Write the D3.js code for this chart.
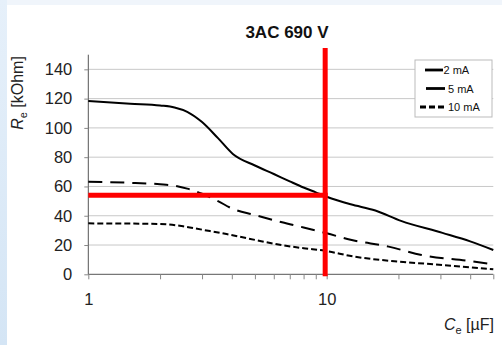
<!DOCTYPE html>
<html><head><meta charset="utf-8">
<script src="https://cdn.jsdelivr.net/npm/d3@7/dist/d3.min.js"></script>
<style>html,body{margin:0;padding:0;background:#fff;}svg{display:block;font-family:"Liberation Sans",Arial,sans-serif;}</style>
</head><body><svg id="c" width="502" height="345"></svg>
<script>
const title = "3AC 690 V";
const seriesNames = ["2 mA", "5 mA", "10 mA"];
const cap2 = [1, 1.5, 2, 2.3, 2.6, 3.0, 3.5, 4.04, 5, 6, 7, 8, 9, 10, 12.6, 16, 20.5, 30.6, 40, 50];
const res2 = [118.4, 116.5, 115.3, 114, 111, 104, 93, 82.2, 74.3, 68.5, 63.5, 59.3, 56, 53, 47.8, 43.6, 36.5, 28.3, 22.5, 16.6];
const cap5 = [1, 1.5, 2, 2.3, 2.6, 3.0, 3.5, 4.0, 5, 6.5, 8, 10, 12.6, 18.2, 25, 39.6, 50];
const res5 = [63.2, 62.5, 61.5, 60.5, 58.5, 55, 50, 45, 40.5, 35.5, 32, 28, 23.6, 18.9, 13.2, 9.1, 6.8];
const cap10 = [1, 2, 2.5, 3.0, 3.8, 5, 6.45, 8, 9.8, 12.9, 20.3, 30.6, 50];
const res10 = [34.8, 34.4, 32.8, 30.5, 27.5, 23.5, 20, 17.8, 16.1, 12.2, 8.6, 6.4, 3.4];
const yTicks = [0, 20, 40, 60, 80, 100, 120, 140];
const xTickLabels = [1, 10];
const xMinorTicks = [1,2,3,4,5,6,7,8,9,10,20,30,40,50];
const markC = 10, markR = 54;

const svg = d3.select("#c");
const defs = svg.append("defs");
const g1 = defs.append("linearGradient").attr("id","lg").attr("x1","0").attr("x2","0").attr("y1","0").attr("y2","1");
g1.append("stop").attr("offset","0").attr("stop-color","#e6f0fa");
g1.append("stop").attr("offset","1").attr("stop-color","#d4e5f5");
svg.append("rect").attr("width",502).attr("height",345).attr("fill","#f0f5fb");
svg.append("rect").attr("width",7).attr("height",345).attr("fill","url(#lg)");
svg.append("rect").attr("x",7).attr("y",5).attr("width",495).attr("height",340).attr("fill","#fff");
const f = defs.append("filter").attr("id","blur").attr("x","-20%").attr("y","-20%").attr("width","140%").attr("height","140%");
f.append("feGaussianBlur").attr("stdDeviation",0.6);

const x = d3.scaleLog().domain([1, 50]).range([88.3, 493.3]);
const y = d3.scaleLinear().domain([0, 150]).range([274.3, 54.7]);

svg.append("g").selectAll("line").data(yTicks.filter(d=>d>0)).join("line")
  .attr("x1", x(1)).attr("x2", x(50)).attr("y1", d=>y(d)).attr("y2", d=>y(d))
  .attr("stroke","#c8c8c8").attr("stroke-width",1);

const yAxis = d3.axisLeft(y).tickValues(yTicks).tickSize(4).tickPadding(12).tickFormat(d3.format("d"));
const ya = svg.append("g").attr("transform",`translate(${x(1)},0)`).call(yAxis);
ya.select(".domain").attr("stroke","#555").attr("d",`M0,${y(150)}V${y(0)}`);
ya.selectAll(".tick line").attr("stroke","#888");
ya.selectAll(".tick text").attr("font-size",16.5).attr("fill","#222").attr("font-family","Liberation Sans, Arial, sans-serif");

const xAxis = d3.axisBottom(x).tickValues(xMinorTicks).tickSize(5).tickPadding(14)
  .tickFormat(d => xTickLabels.includes(d) ? d : "");
const xa = svg.append("g").attr("transform",`translate(0,${y(0)})`).call(xAxis);
xa.select(".domain").attr("stroke","#555").attr("d",`M${x(1)},0H${x(50)}`);
xa.selectAll(".tick line").attr("stroke","#888");
xa.selectAll(".tick text").attr("font-size",16.5).attr("fill","#222").attr("font-family","Liberation Sans, Arial, sans-serif");

const line = d3.line().x(d=>x(d[0])).y(d=>y(d[1])).curve(d3.curveMonotoneX);
const series = [
  {pts: d3.zip(cap2, res2), dash: null},
  {pts: d3.zip(cap5, res5), dash: "14,8"},
  {pts: d3.zip(cap10, res10), dash: "6,3"}
];
svg.append("g").selectAll("path").data(series).join("path")
  .attr("d", d=>line(d.pts)).attr("fill","none").attr("stroke","#000")
  .attr("stroke-width",2).attr("stroke-dasharray", d=>d.dash);

const red = svg.append("g").attr("filter","url(#blur)");
red.append("line").attr("x1",x(markC)-1.5).attr("x2",x(markC)-1.5).attr("y1",48).attr("y2",y(0)+2)
  .attr("stroke","#ff0000").attr("stroke-width",5);
red.append("line").attr("x1",x(1)).attr("x2",x(markC)+1).attr("y1",y(markR)).attr("y2",y(markR))
  .attr("stroke","#ff0000").attr("stroke-width",5);

const lg = svg.append("g");
lg.append("rect").attr("x",415).attr("y",60).attr("width",77).attr("height",57)
  .attr("fill","#fff").attr("stroke","#bbb").attr("stroke-width",1);
const legItems = [
  {name: seriesNames[0], y: 70, x1: 425, x2: 443, tx: 443.5, dash: null},
  {name: seriesNames[1], y: 88.5, x1: 426, x2: 445, tx: 448, dash: null},
  {name: seriesNames[2], y: 107, x1: 420, x2: 447, tx: 448, dash: "6,3"}
];
legItems.forEach(d => {
  lg.append("line").attr("x1",d.x1).attr("x2",d.x2).attr("y1",d.y).attr("y2",d.y)
    .attr("stroke","#000").attr("stroke-width",2.8).attr("stroke-dasharray",d.dash);
  lg.append("text").attr("x",d.tx).attr("y",d.y+4).attr("font-size",11).attr("fill","#111").text(d.name);
});

svg.append("text").attr("x",287).attr("y",38).attr("text-anchor","middle")
  .attr("font-size",17).attr("font-weight","bold").attr("fill","#111").text(title);

const yl = svg.append("text").attr("transform","translate(23,93) rotate(-90)").attr("text-anchor","middle")
  .attr("font-size",16).attr("fill","#222");
yl.append("tspan").attr("font-style","italic").text("R");
yl.append("tspan").attr("font-size",11).attr("dy",4).text("e");
yl.append("tspan").attr("dy",-4).text(" [kOhm]");

const xl = svg.append("text").attr("x",494).attr("y",330).attr("text-anchor","end")
  .attr("font-size",16).attr("fill","#222");
xl.append("tspan").attr("font-style","italic").text("C");
xl.append("tspan").attr("font-size",11).attr("dy",4).text("e");
xl.append("tspan").attr("dy",-4).text(" [µF]");
</script></body></html>
